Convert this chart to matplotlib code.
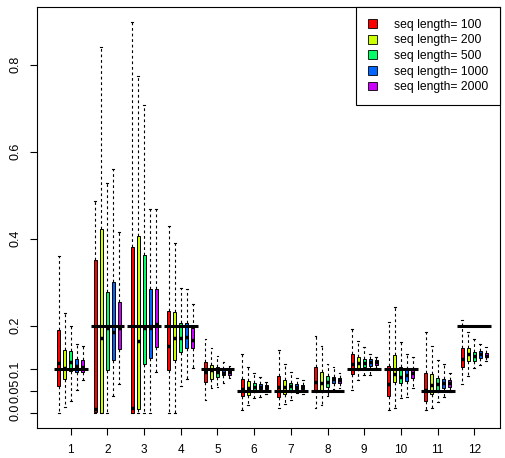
import matplotlib
matplotlib.use("Agg")
import matplotlib.pyplot as plt
from matplotlib.patches import Patch

plt.rcParams['font.family'] = ['Liberation Sans', 'DejaVu Sans']

# seq lengths / colours (R rainbow(5))
seq_lengths = [100, 200, 500, 1000, 2000]
colors = ["#FF0000", "#CCFF00", "#00FF66", "#0066FF", "#CC00FF"]

groups = list(range(1, 13))
true_vals = [0.1, 0.2, 0.2, 0.2, 0.1, 0.05, 0.05, 0.05, 0.1, 0.1, 0.05, 0.2]

# box stats per group (rows) and seq length (cols)
whislo = [
    [0.000, 0.012, 0.027, 0.052, 0.075],
    [0.000, 0.000, 0.000, 0.039, 0.066],
    [0.000, 0.000, 0.000, 0.000, 0.093],
    [0.000, 0.000, 0.062, 0.077, 0.103],
    [0.029, 0.056, 0.060, 0.068, 0.079],
    [0.005, 0.018, 0.033, 0.037, 0.043],
    [0.011, 0.020, 0.029, 0.045, 0.042],
    [0.011, 0.018, 0.038, 0.054, 0.056],
    [0.052, 0.075, 0.087, 0.087, 0.102],
    [0.006, 0.010, 0.034, 0.037, 0.057],
    [0.006, 0.010, 0.025, 0.037, 0.048],
    [0.065, 0.085, 0.103, 0.110, 0.119],
]
q1 = [
    [0.062, 0.077, 0.096, 0.093, 0.093],
    [0.001, 0.000, 0.098, 0.121, 0.146],
    [0.000, 0.008, 0.111, 0.126, 0.152],
    [0.098, 0.121, 0.139, 0.148, 0.148],
    [0.070, 0.077, 0.083, 0.086, 0.087],
    [0.038, 0.041, 0.052, 0.054, 0.054],
    [0.037, 0.043, 0.052, 0.054, 0.054],
    [0.051, 0.052, 0.060, 0.068, 0.068],
    [0.088, 0.102, 0.104, 0.107, 0.109],
    [0.038, 0.070, 0.068, 0.073, 0.079],
    [0.027, 0.043, 0.052, 0.056, 0.058],
    [0.104, 0.119, 0.119, 0.125, 0.127],
]
med = [
    [0.115, 0.102, 0.116, 0.107, 0.106],
    [0.008, 0.172, 0.195, 0.186, 0.194],
    [0.010, 0.165, 0.194, 0.195, 0.204],
    [0.154, 0.172, 0.171, 0.175, 0.167],
    [0.094, 0.098, 0.093, 0.092, 0.093],
    [0.054, 0.056, 0.058, 0.060, 0.058],
    [0.060, 0.060, 0.061, 0.060, 0.060],
    [0.070, 0.069, 0.071, 0.078, 0.075],
    [0.112, 0.114, 0.114, 0.117, 0.116],
    [0.065, 0.089, 0.081, 0.087, 0.092],
    [0.052, 0.064, 0.065, 0.068, 0.068],
    [0.123, 0.135, 0.131, 0.134, 0.131],
]
q3 = [
    [0.190, 0.144, 0.141, 0.123, 0.121],
    [0.351, 0.422, 0.277, 0.300, 0.254],
    [0.380, 0.405, 0.363, 0.284, 0.284],
    [0.234, 0.231, 0.206, 0.206, 0.194],
    [0.117, 0.109, 0.104, 0.100, 0.100],
    [0.077, 0.073, 0.068, 0.065, 0.063],
    [0.084, 0.074, 0.069, 0.065, 0.064],
    [0.104, 0.094, 0.085, 0.083, 0.080],
    [0.134, 0.127, 0.123, 0.123, 0.121],
    [0.108, 0.133, 0.106, 0.100, 0.100],
    [0.092, 0.088, 0.079, 0.077, 0.074],
    [0.148, 0.148, 0.139, 0.142, 0.137],
]
whishi = [
    [0.360, 0.230, 0.200, 0.158, 0.154],
    [0.487, 0.841, 0.529, 0.560, 0.415],
    [0.897, 0.774, 0.707, 0.468, 0.469],
    [0.429, 0.391, 0.286, 0.284, 0.250],
    [0.170, 0.149, 0.130, 0.116, 0.108],
    [0.135, 0.104, 0.092, 0.081, 0.071],
    [0.143, 0.111, 0.094, 0.080, 0.074],
    [0.176, 0.153, 0.112, 0.104, 0.092],
    [0.192, 0.165, 0.152, 0.135, 0.129],
    [0.209, 0.244, 0.163, 0.136, 0.129],
    [0.185, 0.154, 0.121, 0.112, 0.091],
    [0.213, 0.185, 0.169, 0.158, 0.150],
]

fig = plt.figure(figsize=(5.05, 4.58), dpi=100)
ax = fig.add_axes([0.0733, 0.0662, 0.9168, 0.9192])

offset = 0.1636
for s in range(len(seq_lengths)):
    stats = []
    pos = []
    for g in range(len(groups)):
        stats.append(dict(whislo=whislo[g][s], q1=q1[g][s], med=med[g][s],
                          q3=q3[g][s], whishi=whishi[g][s]))
        pos.append(groups[g] + (s - 2) * offset)
    ax.bxp(stats, positions=pos, widths=0.085, patch_artist=True,
           showfliers=False, manage_ticks=False,
           boxprops=dict(facecolor=colors[s], edgecolor='black', linewidth=0.7),
           whiskerprops=dict(color='black', linestyle=(0, (2.5, 2.5)), linewidth=0.8),
           capprops=dict(color='black', linewidth=0.8),
           medianprops=dict(color='black', linewidth=2.5),
           capwidths=0.05)

# true value reference lines
ax.hlines(true_vals, [g - 0.46 for g in groups], [g + 0.46 for g in groups],
          colors='black', linewidth=2.2, zorder=5)

ax.set_xlim(0.082, 12.70)
ax.set_ylim(-0.0345, 0.9333)
ax.set_xticks(groups)
ax.set_xticklabels([str(g) for g in groups], fontsize=8.5)
yt = [0.0, 0.05, 0.1, 0.2, 0.4, 0.6, 0.8]
ax.set_yticks(yt)
ax.set_yticklabels(["0.0", "0.05", "0.1", "0.2", "0.4", "0.6", "0.8"],
                   rotation=90, va='center', fontsize=9)
ax.tick_params(length=5, width=0.8)
ax.tick_params(axis='x', pad=7)
ax.tick_params(axis='y', pad=6)
for sp in ax.spines.values():
    sp.set_linewidth(0.8)

handles = [Patch(facecolor=c, edgecolor='black', linewidth=0.6) for c in colors]
labels = ["seq length= %d" % n for n in seq_lengths]
leg = ax.legend(handles, labels, loc='upper right', fontsize=8.7, frameon=True,
                fancybox=False, framealpha=1, edgecolor='black', borderaxespad=0,
                handlelength=0.75, handleheight=0.75, handletextpad=1.4,
                labelspacing=0.3, borderpad=1.0)
leg.get_frame().set_linewidth(0.8)

fig.savefig("out.png", dpi=100)
